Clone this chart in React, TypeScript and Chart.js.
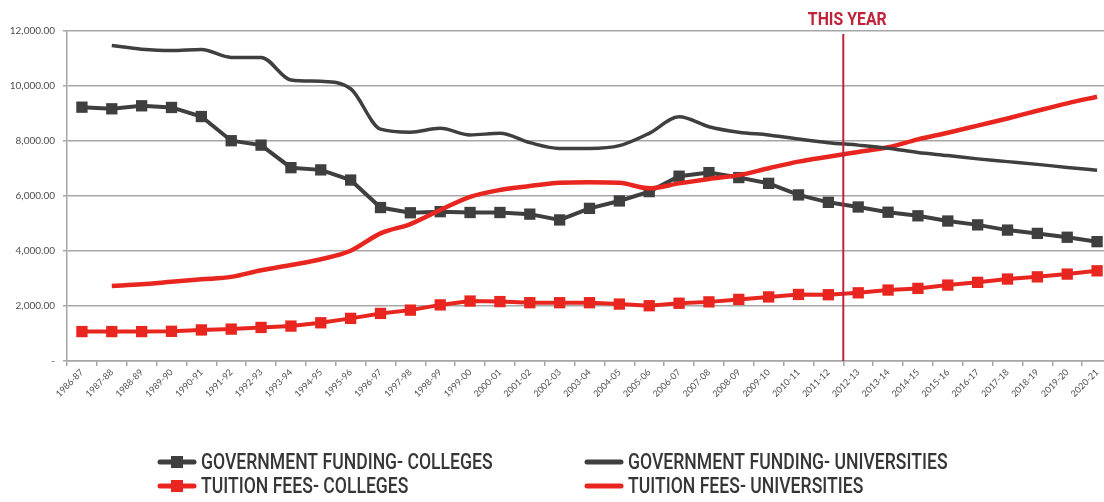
import React, { useEffect, useRef } from "react";
import { Chart, registerables } from "chart.js";

Chart.register(...registerables);

const categories = [
  "1986-87", "1987-88", "1988-89", "1989-90", "1990-91", "1991-92", "1992-93",
  "1993-94", "1994-95", "1995-96", "1996-97", "1997-98", "1998-99", "1999-00",
  "2000-01", "2001-02", "2002-03", "2003-04", "2004-05", "2005-06", "2006-07",
  "2007-08", "2008-09", "2009-10", "2010-11", "2011-12", "2012-13", "2013-14",
  "2014-15", "2015-16", "2016-17", "2017-18", "2018-19", "2019-20", "2020-21",
];

const govFundingColleges = [
  9230, 9170, 9280, 9220, 8890, 8010, 7850, 7030, 6950, 6580, 5580, 5390, 5430,
  5400, 5400, 5340, 5130, 5550, 5820, 6160, 6720, 6850, 6670, 6460, 6040, 5770,
  5600, 5410, 5280, 5090, 4950, 4760, 4640, 4500, 4340,
];

const govFundingUniversities = [
  null, 11470, 11340, 11290, 11330, 11040, 11040, 10220, 10170, 9900, 8430, 8320,
  8460, 8220, 8280, 7940, 7730, 7730, 7830, 8280, 8880, 8520, 8320, 8220, 8070,
  7940, 7850, 7740, 7580, 7470, 7350, 7250, 7150, 7040, 6940,
];

const tuitionFeesColleges = [
  1070, 1070, 1070, 1080, 1130, 1160, 1220, 1270, 1390, 1550, 1730, 1850, 2040,
  2180, 2160, 2120, 2120, 2120, 2070, 2010, 2100, 2150, 2240, 2330, 2420, 2410,
  2480, 2580, 2640, 2760, 2860, 2980, 3060, 3160, 3280,
];

const tuitionFeesUniversities = [
  null, 2730, 2790, 2880, 2970, 3060, 3300, 3490, 3700, 4010, 4640, 4980, 5490,
  5970, 6220, 6360, 6480, 6500, 6480, 6280, 6460, 6620, 6760, 7010, 7250, 7430,
  7600, 7770, 8060, 8300, 8560, 8820, 9100, 9370, 9610,
];

const seriesLabels = [
  "GOVERNMENT FUNDING- COLLEGES",
  "GOVERNMENT FUNDING- UNIVERSITIES",
  "TUITION FEES- COLLEGES",
  "TUITION FEES- UNIVERSITIES",
];

const yMin = 0;
const yMax = 12000;
const yStep = 2000;

const thisYearLabel = "THIS YEAR";
const thisYearCategory = "2012-13";

const GRAY = "#3f3f3f";
const RED = "#e8261f";
const MARK_RED = "#c0223a";
const GRID = "#a6a6a6";
const TICK_TEXT = "#4f4f4f";

const thisYearPlugin = {
  id: "thisYear",
  afterDatasetsDraw(chart: any) {
    const { ctx, chartArea } = chart;
    const xScale = chart.scales.x;
    const idx = categories.indexOf(thisYearCategory);
    const x = xScale.getPixelForValue(idx - 0.5);
    ctx.save();
    ctx.strokeStyle = MARK_RED;
    ctx.lineWidth = 2;
    ctx.beginPath();
    ctx.moveTo(x, chartArea.top + 3);
    ctx.lineTo(x, chartArea.bottom);
    ctx.stroke();
    ctx.fillStyle = MARK_RED;
    ctx.font = "bold 18px Roboto";
    ctx.textAlign = "center";
    ctx.textBaseline = "alphabetic";
    ctx.translate(x + 4, chartArea.top - 6);
    ctx.scale(0.88, 1);
    ctx.fillText(thisYearLabel, 0, 0);
    ctx.restore();
  },
};

const legendPlugin = {
  id: "customLegend",
  afterDraw(chart: any) {
    const { ctx } = chart;
    const items = [
      { label: seriesLabels[0], color: GRAY, marker: true, x: 158, y: 462 },
      { label: seriesLabels[1], color: GRAY, marker: false, x: 585, y: 462 },
      { label: seriesLabels[2], color: RED, marker: true, x: 158, y: 486 },
      { label: seriesLabels[3], color: RED, marker: false, x: 585, y: 486 },
    ];
    items.forEach((it) => {
      ctx.save();
      ctx.strokeStyle = it.color;
      ctx.lineWidth = 5;
      ctx.lineCap = "round";
      ctx.beginPath();
      ctx.moveTo(it.x + 2, it.y);
      ctx.lineTo(it.x + 36, it.y);
      ctx.stroke();
      if (it.marker) {
        ctx.fillStyle = it.color;
        ctx.fillRect(it.x + 13, it.y - 6, 12, 12);
      }
      ctx.fillStyle = "#363636";
      ctx.font = "500 22px Roboto";
      ctx.textAlign = "left";
      ctx.textBaseline = "middle";
      ctx.translate(it.x + 43, it.y + 1);
      ctx.scale(0.8, 1);
      ctx.fillText(it.label, 0, 0);
      ctx.restore();
    });
  },
};

export default function App() {
  const canvasRef = useRef<HTMLCanvasElement | null>(null);

  useEffect(() => {
    if (!canvasRef.current) return;
    const chart = new Chart(canvasRef.current, {
      type: "line",
      data: {
        labels: categories,
        datasets: [
          {
            label: seriesLabels[1],
            data: govFundingUniversities,
            borderColor: GRAY,
            backgroundColor: GRAY,
            borderWidth: 3.5,
            pointRadius: 0,
            tension: 0.3,
            cubicInterpolationMode: "monotone",
          },
          {
            label: seriesLabels[3],
            data: tuitionFeesUniversities,
            borderColor: RED,
            backgroundColor: RED,
            borderWidth: 4.5,
            pointRadius: 0,
            tension: 0.3,
            cubicInterpolationMode: "monotone",
          },
          {
            label: seriesLabels[0],
            data: govFundingColleges,
            borderColor: GRAY,
            backgroundColor: GRAY,
            borderWidth: 4,
            pointStyle: "rect",
            pointRadius: 8,
            pointBorderWidth: 0,
            pointBackgroundColor: GRAY,
            tension: 0,
          },
          {
            label: seriesLabels[2],
            data: tuitionFeesColleges,
            borderColor: RED,
            backgroundColor: RED,
            borderWidth: 4,
            pointStyle: "rect",
            pointRadius: 8,
            pointBorderWidth: 0,
            pointBackgroundColor: RED,
            tension: 0,
          },
        ],
      },
      options: {
        animation: false,
        responsive: true,
        maintainAspectRatio: false,
        layout: { padding: { left: 0, top: 31, right: 4, bottom: 0 } },
        plugins: {
          legend: { display: false },
          tooltip: { enabled: false },
        },
        scales: {
          x: {
            type: "category",
            offset: true,
            grid: {
              offset: true,
              drawOnChartArea: false,
              drawTicks: true,
              tickLength: 5,
              color: GRID,
              lineWidth: 1.5,
            },
            border: { display: true, color: GRID, width: 1.5 },
            ticks: {
              autoSkip: false,
              maxRotation: 45,
              minRotation: 45,
              padding: 1,
              color: TICK_TEXT,
              font: { family: "Lato", size: 9 },
            },
            afterFit(scale: any) {
              scale.height = 141;
            },
          },
          y: {
            min: yMin,
            max: yMax,
            ticks: {
              stepSize: yStep,
              padding: 8,
              color: TICK_TEXT,
              font: { family: "Lato", size: 10 },
              callback: (v: any) =>
                Number(v) === 0
                  ? "-"
                  : Number(v).toLocaleString("en-US", {
                      minimumFractionDigits: 2,
                      maximumFractionDigits: 2,
                    }),
            },
            grid: {
              color: GRID,
              lineWidth: 1.5,
              drawTicks: true,
              tickLength: 4,
            },
            border: { display: true, color: GRID, width: 1.5 },
            afterFit(scale: any) {
              scale.width = 67;
            },
          },
        },
      },
      plugins: [thisYearPlugin, legendPlugin],
    });
    return () => chart.destroy();
  }, []);

  return (
    <div
      style={{
        position: "absolute",
        left: 0,
        top: 0,
        width: 1104,
        height: 502,
        overflow: "hidden",
        background: "#fff",
      }}
    >
      <div style={{ position: "relative", width: 1120, height: 502 }}>
        <canvas ref={canvasRef} />
      </div>
    </div>
  );
}
